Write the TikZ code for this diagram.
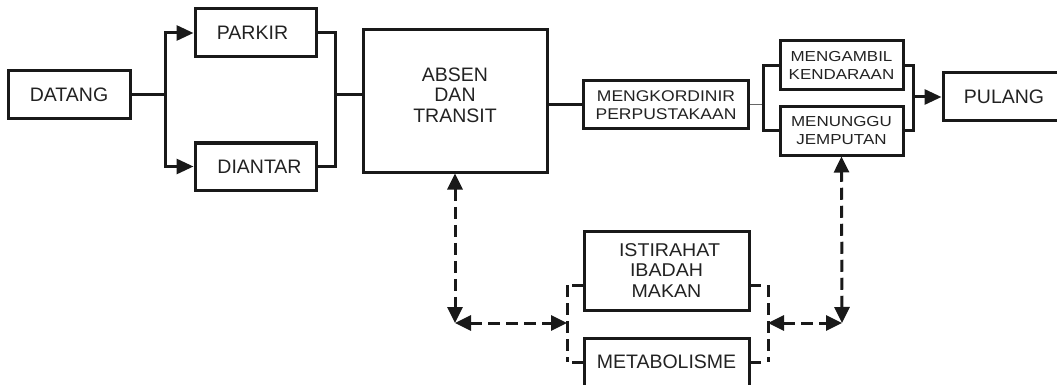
\documentclass[tikz,border=0pt]{standalone}
\usepackage{fontspec}
\setmainfont{Liberation Sans}
\newfontfamily\widesans[FakeStretch=1.13]{Liberation Sans}
\newfontfamily\widersans[FakeStretch=1.17]{Liberation Sans}
\newfontfamily\midsans[FakeStretch=1.06]{Liberation Sans}
\usetikzlibrary{arrows.meta}
\definecolor{ink}{HTML}{222222}
\tikzset{
  box/.style={draw=black!90, line width=3pt, inner sep=0pt, align=center, text=ink},
  bigtxt/.style={font=\fontsize{19.5}{21}\selectfont},
  line/.style={draw=black!90, line width=3pt},
  thinline/.style={draw=black!60, line width=1pt},
  arrowline/.style={line, -{Triangle[length=17pt,width=15pt]}},
  dashline/.style={draw=black!90, line width=3pt, dash pattern=on 12pt off 6pt},
  dasharrow/.style={dashline, {Triangle[length=16pt,width=15pt]}-{Triangle[length=16pt,width=15pt]}},
}
\begin{document}
\begin{tikzpicture}[x=1pt, y=-1pt]
\useasboundingbox (0,0) rectangle (1057,385);

% process boxes
\node[box, bigtxt, minimum width=122pt, minimum height=48pt] (datang) at (69,95) {DATANG};
\node[box, bigtxt, minimum width=121pt, minimum height=48pt] (parkir) at (255.5,33) {PARKIR\hspace*{6pt}};
\node[box, bigtxt, minimum width=121pt, minimum height=47pt] (diantar) at (255.5,166.5) {\hspace*{8pt}DIANTAR};
\node[box, minimum width=184pt, minimum height=142pt] (absen) at (455,101) {};
\node[align=center, text=ink, font=\fontsize{19.5}{20.5}\selectfont] (absentxt) at (455,95) {ABSEN\\DAN\\TRANSIT};
\node[box, minimum width=165pt, minimum height=48pt, font=\widesans\fontsize{15.5}{18}\selectfont] (mengk) at (666,105) {MENGKORDINIR\\PERPUSTAKAAN};
\node[box, minimum width=123pt, minimum height=49pt, font=\widersans\fontsize{14.5}{18}\selectfont] (mengambil) at (841.5,65.5) {MENGAMBIL\\KENDARAAN};
\node[box, minimum width=123pt, minimum height=48pt, font=\widersans\fontsize{14.5}{18}\selectfont] (menunggu) at (841.5,131) {MENUNGGU\\JEMPUTAN};
\node[box, bigtxt, minimum width=122pt, minimum height=48pt] (pulang) at (1004,97) {PULANG};
\node[box, minimum width=165pt, minimum height=79pt, font=\midsans\fontsize{18.5}{20.8}\selectfont] (istirahat) at (666.5,270.5) {\hspace*{6pt}ISTIRAHAT\\IBADAH\\MAKAN};
\node[box, bigtxt, minimum width=165pt, minimum height=48pt] (metab) at (666.5,362) {METABOLISME};

% junction points
\coordinate (splitA) at (165,95);
\coordinate (joinA) at (335,95);
\coordinate (splitB) at (763,97);
\coordinate (joinB) at (913,97);
\coordinate (cornerL) at (455,323);
\coordinate (cornerR) at (842,323);
\coordinate (brkL) at (567,323);
\coordinate (brkR) at (768,323);
\coordinate (brkLtop) at (567,285);
\coordinate (brkLbot) at (567,362);
\coordinate (brkRtop) at (768,285);
\coordinate (brkRbot) at (768,362);

% arrival branches
\draw[line] (datang.east) -- (splitA);
\draw[arrowline] (splitA) |- (parkir.west);
\draw[arrowline] (splitA) |- (diantar.west);
\draw[line] (parkir.east) -| (joinA) |- (diantar.east);
\draw[line] (joinA) -- (absen.west |- joinA);
\draw[line] (absen.east |- mengk.west) -- (mengk.west);

% departure branches
\draw[thinline] (mengk.east) -- (splitB |- mengk.east);
\draw[line] (mengambil.west) -| (splitB) |- (menunggu.west);
\draw[line] (mengambil.east) -| (joinB) |- (menunggu.east);
\draw[arrowline] (joinB) -- (pulang.west);

% break activities bracket
\draw[dashline] (brkLtop) -- (brkLbot);
\draw[dashline] (brkRtop) -- (brkRbot);
\draw[line] ([xshift=5pt]brkLtop) -- (istirahat.west |- brkLtop);
\draw[line] ([xshift=5pt]brkLbot) -- (metab.west |- brkLbot);
\draw[line] (istirahat.east |- brkRtop) -- ([xshift=-7pt]brkRtop);
\draw[line] (metab.east |- brkRbot) -- ([xshift=-7pt]brkRbot);

% two-way dashed links
\draw[dasharrow] (absen.south) -- (cornerL);
\draw[dasharrow] (cornerL) -- (brkL);
\draw[dasharrow] (brkR) -- (cornerR);
\draw[dasharrow] (cornerR) -- (menunggu.south);
\end{tikzpicture}
\end{document}
